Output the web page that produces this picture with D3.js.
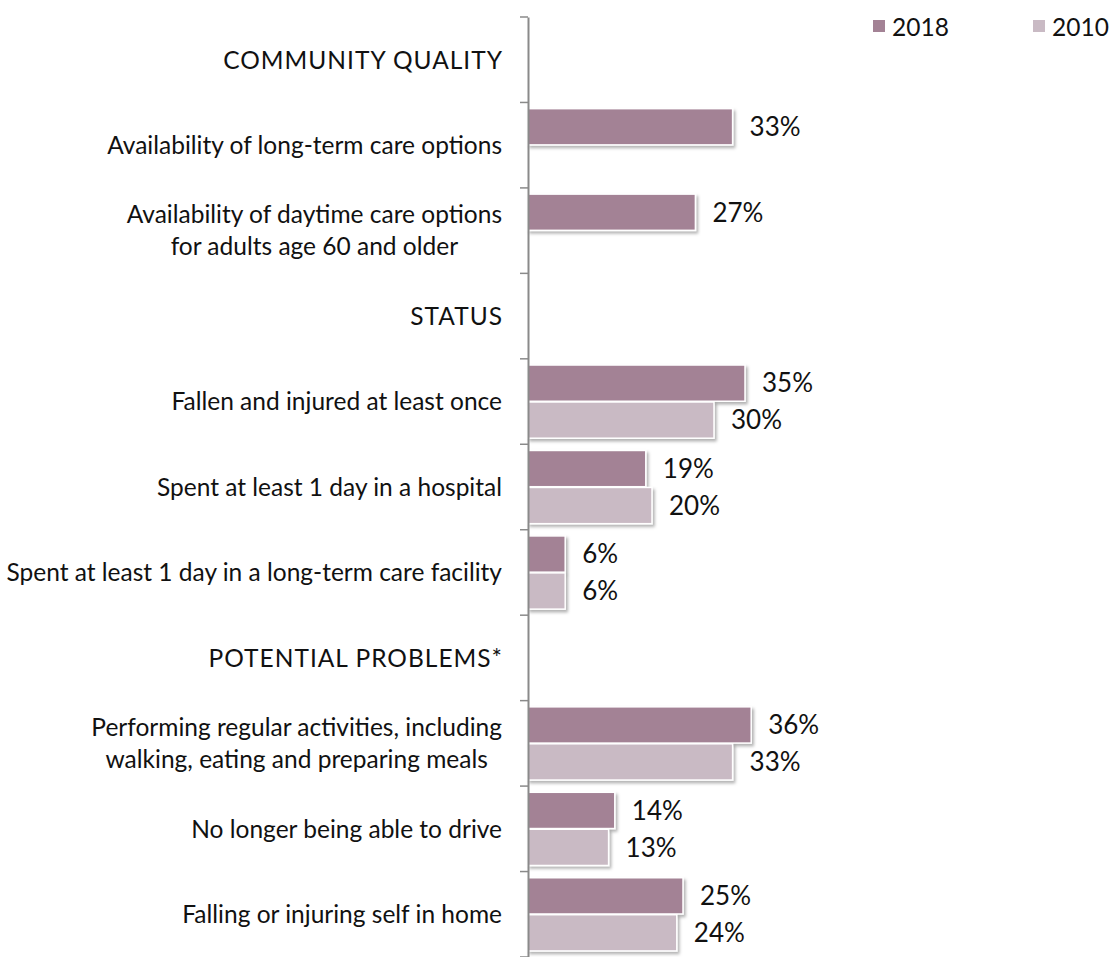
<!DOCTYPE html>
<html>
<head>
<meta charset="utf-8">
<script src="https://cdn.jsdelivr.net/npm/d3@7"></script>
<style>
  html, body { margin: 0; padding: 0; background: #ffffff; }
  svg text { font-family: Lato, "Open Sans", sans-serif; fill: #111111; }
</style>
</head>
<body>
<svg id="chart" width="1114" height="957"></svg>
<script>
const categories = [
  "COMMUNITY QUALITY",
  "Availability of long-term care options",
  "Availability of daytime care options\nfor adults age 60 and older",
  "STATUS",
  "Fallen and injured at least once",
  "Spent at least 1 day in a hospital",
  "Spent at least 1 day in a long-term care facility",
  "POTENTIAL PROBLEMS*",
  "Performing regular activities, including\nwalking, eating and preparing meals",
  "No longer being able to drive",
  "Falling or injuring self in home"
];
const seriesNames = ["2018", "2010"];
const values2018 = [null, 33, 27, null, 35, 19, 6, null, 36, 14, 25];
const values2010 = [null, null, null, null, 30, 20, 6, null, 33, 13, 24];
const seriesColors = ["#A38295", "#C9BAC4"];

const svg = d3.select("#chart");
const labelFont = 24.5;
const headerLetterSpacing = 1;
const valueFont = 26;
const legendFont = 24.5;

const defs = svg.append("defs");
const f = defs.append("filter").attr("id", "shadow")
  .attr("x", "-10%").attr("y", "-20%").attr("width", "130%").attr("height", "160%");
f.append("feDropShadow").attr("dx", 2).attr("dy", 2.5).attr("stdDeviation", 1.6)
  .attr("flood-color", "#000").attr("flood-opacity", 0.3);

const axisX = 528;
const y = d3.scaleBand().domain(d3.range(categories.length)).range([17, 957]).padding(0);
const inner = d3.scaleBand().domain(seriesNames).range([6.2, 79.4]).paddingInner(0.02);
const x = d3.scaleLinear().domain([0, 40]).range([axisX, axisX + 248]);

const rows = categories.map((c, i) => ({ i, label: c, vals: [values2018[i], values2010[i]] }));

// bars
const barData = [];
rows.forEach(r => r.vals.forEach((v, k) => { if (v != null) barData.push({ i: r.i, s: seriesNames[k], k, v }); }));

svg.append("g").selectAll("rect").data(barData).join("rect")
  .attr("x", x(0))
  .attr("y", d => y(d.i) + inner(d.s))
  .attr("width", d => x(d.v) - x(0))
  .attr("height", inner.bandwidth())
  .attr("fill", d => seriesColors[d.k])
  .attr("stroke", "#ffffff")
  .attr("stroke-width", 1.5)
  .attr("filter", "url(#shadow)");

// value labels
svg.append("g").selectAll("text").data(barData).join("text")
  .attr("x", d => x(d.v) + 17)
  .attr("y", d => y(d.i) + inner(d.s) + inner.bandwidth() / 2)
  .attr("dy", "0.36em")
  .attr("font-size", valueFont)
  .text(d => d.v + "%");

// axis
const axis = d3.axisLeft(y).tickSize(8).tickFormat("").tickSizeOuter(0);
const gAxis = svg.append("g").attr("transform", `translate(${axisX},0)`).call(axis);
gAxis.select(".domain").attr("stroke", "#8a8a8a").attr("stroke-width", 2);
gAxis.selectAll(".tick").attr("transform", d => `translate(0,${y(d)})`);
gAxis.selectAll(".tick line").attr("stroke", "#8a8a8a").attr("stroke-width", 1.5);
gAxis.append("line").attr("x1", -8).attr("x2", 0).attr("y1", y.range()[1]).attr("y2", y.range()[1])
  .attr("stroke", "#8a8a8a").attr("stroke-width", 1.5);

// category labels
const labelRight = 502;
const lineH = 32;
const gLab = svg.append("g");
rows.forEach(r => {
  const lines = r.label.split("\n");
  const isHeader = r.label === r.label.toUpperCase();
  const cy = y(r.i) + y.bandwidth() / 2;
  const t = gLab.append("text").attr("font-size", labelFont).attr("text-anchor", "middle")
    .attr("letter-spacing", isHeader ? headerLetterSpacing : 0);
  lines.forEach((ln, j) => {
    t.append("tspan").attr("y", cy + (j - (lines.length - 1) / 2) * lineH).attr("dy", "0.36em").text(ln);
  });
  let maxW = 0;
  t.selectAll("tspan").each(function () { maxW = Math.max(maxW, this.getComputedTextLength()); });
  const trail = isHeader ? headerLetterSpacing : 0;
  t.selectAll("tspan").attr("x", labelRight + trail - maxW / 2);
});

// legend
const legendX = [873, 1033];
const lg = svg.append("g").selectAll("g").data(seriesNames).join("g")
  .attr("transform", (d, k) => `translate(${legendX[k]},20)`);
lg.append("rect").attr("width", 12).attr("height", 12).attr("fill", (d, k) => seriesColors[k]);
lg.append("text").attr("x", 19).attr("y", 7).attr("dy", "0.36em").attr("font-size", legendFont).text(d => d);
</script>
</body>
</html>
